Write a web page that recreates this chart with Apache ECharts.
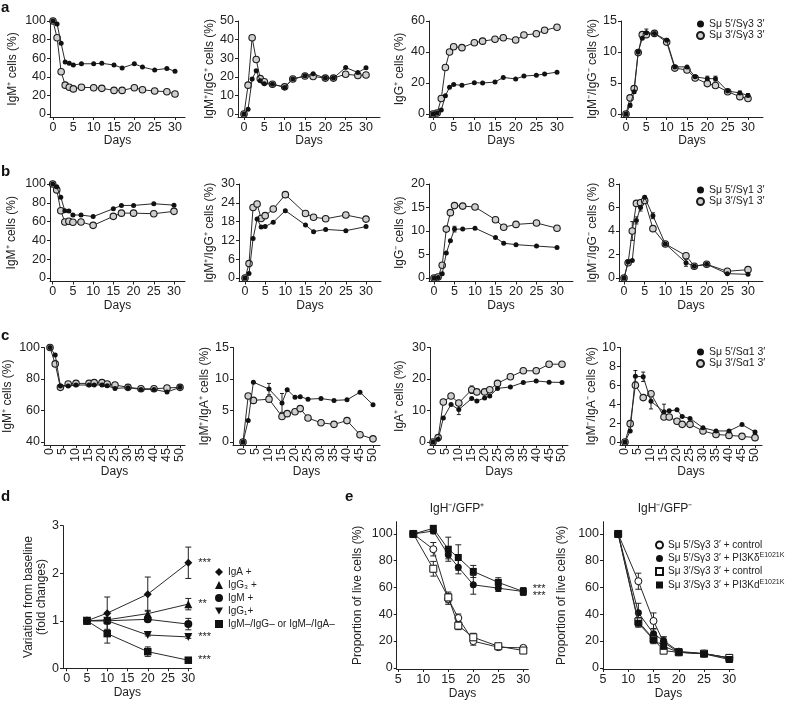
<!DOCTYPE html>
<html><head><meta charset="utf-8">
<script src="https://cdn.jsdelivr.net/npm/echarts@6/dist/echarts.min.js"></script>
<style>html,body{margin:0;padding:0;background:#fff}#c{width:788px;height:701px}</style>
</head><body><div id="c"></div>
<script>
// ---------- DATA ----------
const aNames = ['Sμ 5′/Sγ3 3′', 'Sμ 3′/Sγ3 3′'];
const bNames = ['Sμ 5′/Sγ1 3′', 'Sμ 3′/Sγ1 3′'];
const cNames = ['Sμ 5′/Sα1 3′', 'Sμ 3′/Sα1 3′'];

const aDays  = [0,1,2,3,4,5,7,10,12,15,17,20,22,25,28,30];
const a3Days = [0,1,2,3,4,5,7,10,12,15,17,20,22,25,27,30];
const a1Filled = [100,96.8,76,56,54.5,52.7,54,54,54.5,52.7,49.5,54,50.5,47.3,49,46];
const a1Open   = [100,82,45.5,31,28.7,27,28.7,28.3,27.6,25.4,25.4,28.3,26,24.7,24,21.5];
const a2Filled = [0,2.5,18.8,23.2,17.9,16.3,16,14.3,18.8,20.5,21.6,19.3,19.3,25,22.3,24.8];
const a2Open   = [0,15.5,41,29.3,19,17.3,16,14.6,18.8,20.4,20.2,19.3,19.3,21.4,20.7,21];
const a3Filled = [0,0.6,2.6,11.8,17.2,19,18.5,20.2,20,20.6,23.6,22.6,24.5,25,25.8,27];
const a3Open   = [0,0.6,10,30,40,43.4,42.8,46,47,48.2,49.2,47.7,51,51.8,54,56];
const a3OpenErr= [0,0,0,0,0,0,0,0,0,0,0,0,0,0,1.2,0];
const a4Filled = [0,1.4,3.6,10,12.2,13.1,13,11.9,7.6,7.6,6,5.7,5.7,3.7,3.4,3];
const a4Open   = [0,2.6,4.1,9.9,12.8,12.8,13,11.6,7.4,7.1,5.8,4.9,4.6,3.6,2.8,2.5];
const a4FilledErr = [0,0.3,0.3,0,0,0.6,0,0.3,0,0,0,0.4,0.4,0,0.3,0.3];

const bDays = [0,1,2,3,4,5,7,10,15,17,20,25,30];
const b1Filled = [100,97,86,71.6,71.2,67,67,65.3,73.7,77.2,77.2,79,77.5];
const b1Open   = [100,93.7,71.6,59.6,60.4,59.3,59.6,56,65.6,69,69,68.4,70.9];
const b2Filled = [0,1.4,12.6,18.8,16.3,16.4,17.8,21.5,16.9,14.8,15.5,15.1,16.4];
const b2Open   = [0,4.6,22.5,23.6,19,19.9,22,26.6,20.6,19.4,18.9,20.1,18.8];
const b3Filled = [0,0.1,0.9,5.3,7.9,10.4,10.4,10.6,8.6,7.4,7.1,6.8,6.5];
const b3Open   = [0,0.2,2.7,10.4,13.9,15.4,15.3,15.1,12.4,10.8,11.4,11.7,10.6];
const b3FilledErr = [0,0,0,0,0,0.6,0,0,0,0,0,0,0];
const b3OpenErr   = [0,0,0,0,0,0,0,0.5,0.4,0,0,0,0];
const b4Filled = [0,1.37,1.5,4.9,6.0,6.87,5.3,2.9,1.3,1.0,1.17,0.37,0.31];
const b4Open   = [0,1.3,4.0,6.35,6.4,6.6,4.2,2.9,1.9,1.0,1.17,0.57,0.71];
const b4FilledErr = [0,0,0,0.3,0.3,0.1,0.25,0,0.3,0,0,0,0];
const b4OpenErr   = [0,0,0.8,0,0,0,0.15,0,0.2,0,0,0,0];

const cDays  = [0,2,4,7,10,15,17,20,22,25,30,35,40,45,50];
const c2Days = [0,2,4,10,15,17,20,22,25,30,35,40,45,50];
const c1Filled = [100,95.3,75.5,75.5,76.2,76.2,76.2,76.2,75.7,74,74.5,73.4,73.4,71.7,74.7];
const c1Open   = [100,89.6,74.7,76.8,77.2,77.2,77.7,77.7,76.8,76.2,74.7,73.8,73.8,74.3,74.7];
const c2Filled = [0,3.4,9.5,8.4,6.2,8.3,7.1,7.2,6.8,6.9,6.6,6.7,7.9,5.9];
const c2Open   = [0,7.3,6.6,6.8,4.05,4.5,4.8,5.3,3.8,3.05,2.8,3.4,1.15,0.5];
const c2FilledErr = [0,0,0,0.9,1.5,0,0,0,0,0,0,0,0,0];
const c3Filled = [0,0.85,7.6,11.9,10.3,13.8,13,14,14.6,17,17.5,18.9,19.4,19,18.9];
const c3Open   = [0,1.4,12.7,14.6,12.4,16.6,15.9,15.9,16.6,18.6,20.7,22.6,22.6,24.7,24.7];
const c3FilledErr = [0,0,0,0,1.6,0,0,0,0,0,0,0,0,0,0];
const c3OpenErr   = [0,0,0,0,0,1.2,0,0,0,0,0,0,0,0,0];
const c4Filled = [0,1.17,6.96,6.9,4.3,3.2,3.3,3.4,2.7,2.5,1.5,1.17,1.17,1.84,1.06];
const c4Open   = [0,1.94,6.0,4.7,5.1,2.65,2.65,2.2,1.87,1.87,1.17,0.8,0.7,0.6,0.46];
const c4FilledErr = [0,0,0.6,0.5,0.8,0.8,0,0,0,0,0,0,0,0,0];

const dDays = [5,10,20,30];
const dNames = ['IgA +','IgG₃ +','IgM +','IgG₁+','IgM–/IgG– or IgM–/IgA–'];
const dIgA    = [1,1.16,1.56,2.22], dIgAErr    = [0,0.34,0.36,0.33];
const dIgG3   = [1,1.02,1.15,1.35], dIgG3Err   = [0,0.03,0.07,0.12];
const dIgM    = [1,1.0,1.03,0.93],  dIgMErr    = [0,0.04,0.05,0.12];
const dIgG1   = [1,1.0,0.7,0.66],   dIgG1Err   = [0,0.02,0.02,0.03];
const dNeg    = [1,0.73,0.35,0.17], dNegErr    = [0,0.2,0.1,0.02];
const dStars  = ['***','**','','***','***'];

const eDays = [8,12,15,17,20,25,30];
const eNames = ['Sμ 5′/Sγ3 3′ + control','Sμ 5′/Sγ3 3′ + PI3KδE1021K','Sμ 3′/Sγ3 3′ + control','Sμ 3′/Sγ3 3′ + PI3KdE1021K'];
const e1OpenC  = [100,88.6,51.4,37.2,19.9,15.4,14.9], e1OpenCErr  = [0,5,4,3,3,1,1.5];
const e1FillC  = [100,102.2,84.4,75.2,62,59.5,57],    e1FillCErr  = [0,2,3,5,7,2.5,2.5];
const e1OpenS  = [100,74,52.6,31.5,22.8,16.1,12.9],   e1OpenSErr  = [0,5.5,4,3,3,1,1.5];
const e1FillS  = [100,104.2,88.6,82.4,72,63.8,57],    e1FillSErr  = [0,2,9,9.5,4.5,3.5,3];
const e2OpenC  = [100,64.7,35,19,11.6,10.6,7.4],      e2OpenCErr  = [0,6,6,4,2,2,2];
const e2FillC  = [100,41.2,25.4,20.2,12.3,10.6,7.4],  e2FillCErr  = [0,7,4,3,2,2,2];
const e2OpenS  = [100,34.6,21.5,12.8,11.6,10.6,7.4],  e2OpenSErr  = [0,3,3,2,2,2,2];
const e2FillS  = [100,33.3,21,16,11.6,10.4,6.2],      e2FillSErr  = [0,3,3,3,2,2,2];
const eStars = ['','***','','***'];

// ---------- STYLE / LAYOUT ----------
const FONT = 'Liberation Sans, Arial, Helvetica, sans-serif';
const INK = '#222';
const TICK_FS = 12.5, NAME_FS = 12;
const chart = echarts.init(document.getElementById('c'), null, {renderer:'canvas'});

const grids = [], xAxes = [], yAxes = [], series = [];

function ticks(t){ const r=[]; for(let v=t[0]; v<=t[1]+1e-9; v+=t[2]) r.push(+v.toFixed(6)); return r; }

// geo: [axisX, x0px, x1px, xEnd, yAxisTop, y1px, y0px, xAxisY]
function addPanel(p){
  const gi = grids.length;
  const [ax,x0,x1,xe,ytop,y1,y0,xa] = p.geo;
  const sx = (x1-x0)/(p.xt[1]-p.xt[0]);
  const sy = (y0-y1)/(p.yt[1]-p.yt[0]);
  grids.push({left:ax, top:ytop, width:xe-ax, height:xa-ytop});
  const xT = ticks(p.xt), yT = ticks(p.yt);
  xAxes.push({type:'value', gridIndex:gi,
    min: p.xt[0]-(x0-ax)/sx, max: p.xt[1]+(xe-x1)/sx,
    axisLine:{show:true, onZero:false, lineStyle:{color:INK,width:1}},
    axisTick:{show:true, length:3, customValues:xT, lineStyle:{color:INK}},
    axisLabel:{customValues:xT, color:INK, fontSize:TICK_FS, fontFamily:FONT, margin:p.rot?3:4, rotate:p.rot?90:0},
    splitLine:{show:false},
    name:'Days', nameLocation:'middle', nameGap:p.xGap, nameTextStyle:{color:INK, fontSize:NAME_FS, fontFamily:FONT}
  });
  yAxes.push({type:'value', gridIndex:gi,
    min: p.yt[0]-(xa-y0)/sy, max: p.yt[1]+(y1-ytop)/sy,
    axisLine:{show:true, onZero:false, lineStyle:{color:INK,width:1}},
    axisTick:{show:true, length:3, customValues:yT, lineStyle:{color:INK}},
    axisLabel:{customValues:yT, color:INK, fontSize:TICK_FS, fontFamily:FONT, margin:4},
    splitLine:{show:false},
    name:p.yName, nameLocation:'middle', nameGap:p.yGap, nameRotate:90,
    nameTextStyle:{color:INK, fontSize:NAME_FS, fontFamily:FONT, lineHeight:13}
  });
  return gi;
}

function errSeries(gi, xs, ys, es, cap){
  const data = [];
  xs.forEach((x,i)=>{ if(es && es[i]>0) data.push([x, ys[i]-es[i], ys[i]+es[i]]); });
  if(!data.length) return;
  const w = cap||2;
  series.push({type:'custom', xAxisIndex:gi, yAxisIndex:gi, silent:true, z:1,
    encode:{x:0, y:[1,2]}, data,
    renderItem:(params, api)=>{
      const lo = api.coord([api.value(0), api.value(1)]);
      const hi = api.coord([api.value(0), api.value(2)]);
      const st = {stroke:INK, lineWidth:1};
      return {type:'group', children:[
        {type:'line', shape:{x1:lo[0],y1:lo[1],x2:hi[0],y2:hi[1]}, style:st},
        {type:'line', shape:{x1:lo[0]-w,y1:lo[1],x2:lo[0]+w,y2:lo[1]}, style:st},
        {type:'line', shape:{x1:hi[0]-w,y1:hi[1],x2:hi[0]+w,y2:hi[1]}, style:st}
      ]};
    }});
}

function lineSeries(gi, name, xs, ys, opt){
  series.push(Object.assign({type:'line', name, xAxisIndex:gi, yAxisIndex:gi,
    data: xs.map((x,i)=>[x, ys[i]]), symbol:'circle', symbolSize:5, z:3,
    lineStyle:{color:'#2a2a2a', width:1}, itemStyle:{color:'#111', borderColor:'#111', borderWidth:0},
    emphasis:{disabled:true}, animation:false}, opt||{}));
}
const openStyle = {symbolSize:6.5, itemStyle:{color:'#cfcfcf', borderColor:'#1a1a1a', borderWidth:1.1}};

function pairPanel(geo, xt, yt, yName, yGap, days, filled, open, names, fErr, oErr, rot, xGap){
  const gi = addPanel({geo, xt, yt, yName, yGap, rot, xGap});
  errSeries(gi, days, filled, fErr); errSeries(gi, days, open, oErr);
  lineSeries(gi, names[1], days, open, Object.assign({z:3}, openStyle));
  lineSeries(gi, names[0], days, filled, {z:4});
}

// Row a
pairPanel([50,53,175,185, 21,21,114,117],[0,30,5],[0,100,20],'IgM⁺ cells (%)',31,aDays,a1Filled,a1Open,aNames,null,null,false,18);
pairPanel([238,244,366,380, 21,21,114,117],[0,30,5],[0,50,10],'IgM⁺/IgG⁺ cells (%)',22,aDays,a2Filled,a2Open,aNames,null,null,false,18);
pairPanel([429,433,557,573, 21,21,114,117],[0,30,5],[0,60,20],'IgG⁺ cells (%)',23,a3Days,a3Filled,a3Open,aNames,null,a3OpenErr,false,18);
pairPanel([621,626,748,763, 21,21,114,117],[0,30,5],[0,15,5],'IgM⁻/IgG⁻ cells (%)',22,aDays,a4Filled,a4Open,aNames,a4FilledErr,null,false,18);
// Row b
pairPanel([50,52.7,174,185, 184,184,278,281.5],[0,30,5],[0,100,20],'IgM⁺ cells (%)',32,bDays,b1Filled,b1Open,bNames,null,null,false,18);
pairPanel([239,245,366,381, 184,184,278,281.5],[0,30,5],[0,30,6],'IgM⁺/IgG⁺ cells (%)',23,bDays,b2Filled,b2Open,bNames,null,null,false,18);
pairPanel([429,434,557,573, 184,184,278,281.5],[0,30,5],[0,20,5],'IgG⁻ cells (%)',23,bDays,b3Filled,b3Open,bNames,b3FilledErr,b3OpenErr,false,18);
pairPanel([619,624,748,763, 184,184,278,281.5],[0,30,5],[0,8,2],'IgM⁻/IgG⁻ cells (%)',20,bDays,b4Filled,b4Open,bNames,b4FilledErr,b4OpenErr,false,18);
// Row c
pairPanel([44,50,180,185, 347.5,347.5,442,445],[0,50,5],[40,100,20],'IgM⁺ cells (%)',30,cDays,c1Filled,c1Open,cNames,null,null,true,21);
pairPanel([233,243,373,380, 347.5,347.5,442,445],[0,50,5],[0,15,5],'IgM⁺/IgA⁺ cells (%)',21,c2Days,c2Filled,c2Open,cNames,c2FilledErr,null,true,21);
pairPanel([430,433,562,568, 347.5,347.5,442,445],[0,50,5],[0,30,10],'IgA⁺ cells (%)',24,cDays,c3Filled,c3Open,cNames,c3FilledErr,c3OpenErr,true,21);
pairPanel([620,625,755,762, 347.5,347.5,442,445],[0,50,5],[0,10,2],'IgM⁻/IgA⁻ cells (%)',19,cDays,c4Filled,c4Open,cNames,c4FilledErr,null,true,21);

// Panel d
{
  const gi = addPanel({geo:[63,66.7,188.3,191.7, 525.7,525.7,668.3,668.3], xt:[0,30,5], yt:[0,3,1],
    yName:'Variation from baseline\n(fold changes)', yGap:15, xGap:13});
  const dSets = [[dIgA,dIgAErr,'diamond',8],[dIgG3,dIgG3Err,'triangle',8],[dIgM,dIgMErr,'circle',8],
                 [dIgG1,dIgG1Err,'path://M0,0 L10,0 L5,9 Z',8],[dNeg,dNegErr,'rect',7.5]];
  dSets.forEach((s,k)=>{
    errSeries(gi, dDays, s[0], s[1], 3);
    series.push({type:'line', name:dNames[k], xAxisIndex:gi, yAxisIndex:gi, animation:false,
      data: dDays.map((x,i)=>({value:[x, s[0][i]],
        label: (i===dDays.length-1 && dStars[k]) ? {show:true, formatter:dStars[k], position:'right', distance:6,
          color:INK, fontSize:11, fontFamily:FONT} : {show:false}})),
      symbol:s[2], symbolSize:s[3], z:3+k, lineStyle:{color:'#2a2a2a', width:1},
      itemStyle:{color:'#111'}, emphasis:{disabled:true}});
  });
}

// Panel e
const eSyms = [['circle',false],['circle',true],['rect',false],['rect',true]];
function ePanel(geo, yGap, sets, stars){
  const gi = addPanel({geo, xt:[5,30,5], yt:[0,100,20], yName:'Proportion of live cells (%)', yGap, xGap:19});
  sets.forEach((s,k)=>{
    errSeries(gi, eDays, s[0], s[1], 3);
    const filled = eSyms[k][1];
    series.push({type:'line', name:eNames[k], xAxisIndex:gi, yAxisIndex:gi, animation:false,
      data: eDays.map((x,i)=>({value:[x, s[0][i]],
        label: (stars && i===eDays.length-1 && stars[k]) ? {show:true, formatter:stars[k], position:'right', distance:6,
          offset:[0, k===3?-3:4], color:INK, fontSize:11, fontFamily:FONT} : {show:false}})),
      symbol:eSyms[k][0], symbolSize:7, z:3+k, lineStyle:{color:'#2a2a2a', width:1},
      itemStyle: filled ? {color:'#111'} : {color:'#fff', borderColor:'#111', borderWidth:1},
      emphasis:{disabled:true}});
  });
}
ePanel([396.7,398.3,523.3,528.3, 521.7,534,668.3,669.5], 33,
  [[e1OpenC,e1OpenCErr],[e1FillC,e1FillCErr],[e1OpenS,e1OpenSErr],[e1FillS,e1FillSErr]], eStars);
ePanel([603,603,729.3,734, 521.7,534,668.3,669.5], 35,
  [[e2OpenC,e2OpenCErr],[e2FillC,e2FillCErr],[e2OpenS,e2OpenSErr],[e2FillS,e2FillSErr]], null);

// ---------- legends & titles ----------
const legTxt = {color:INK, fontSize:10.5, fontFamily:FONT, lineHeight:11};
function pairLegend(names, top){
  return {orient:'vertical', left:696, top, itemWidth:7, itemHeight:7, itemGap:0.5, padding:0,
    icon:'circle', selectedMode:false, textStyle:legTxt, data:[names[0], names[1]]};
}
const legends = [
  pairLegend(aNames, 18.5),
  pairLegend(bNames, 184.5),
  pairLegend(cNames, 346.5),
  {orient:'vertical', left:215, top:566, itemWidth:8, itemHeight:8, itemGap:1, padding:0, selectedMode:false,
   textStyle:{color:INK, fontSize:10, fontFamily:FONT, lineHeight:12},
   data:[{name:dNames[0],icon:'diamond'},{name:dNames[1],icon:'triangle'},{name:dNames[2],icon:'circle'},
         {name:dNames[3],icon:'path://M0,0 L10,0 L5,9 Z'},{name:dNames[4],icon:'rect'}]},
  {orient:'vertical', left:655, top:539, itemWidth:7, itemHeight:7, itemGap:1, padding:0, selectedMode:false,
   textStyle:{color:INK, fontSize:10, fontFamily:FONT, lineHeight:12,
     rich:{sup:{fontSize:7, fontFamily:FONT, color:INK, padding:[0,0,6,0]}}},
   formatter: n => n.replace('E1021K','{sup|E1021K}'),
   data:[{name:eNames[0],icon:'circle'},{name:eNames[1],icon:'circle'},{name:eNames[2],icon:'rect'},{name:eNames[3],icon:'rect'}]}
];

const letterStyle = {color:'#111', fontSize:15, fontWeight:'bold', fontFamily:FONT};
const titles = [
  {text:'a', left:1, top:0, textStyle:letterStyle, padding:0},
  {text:'b', left:1, top:164, textStyle:letterStyle, padding:0},
  {text:'c', left:1, top:328, textStyle:letterStyle, padding:0},
  {text:'d', left:1, top:489, textStyle:letterStyle, padding:0},
  {text:'e', left:345, top:489, textStyle:letterStyle, padding:0},
  {text:'IgH⁻/GFP⁺', left:457, top:503, textAlign:'center', padding:0, textStyle:{color:INK, fontSize:12, fontWeight:'normal', fontFamily:FONT}},
  {text:'IgH⁻/GFP⁻', left:665, top:503, textAlign:'center', padding:0, textStyle:{color:INK, fontSize:12, fontWeight:'normal', fontFamily:FONT}}
];

chart.setOption({animation:false, backgroundColor:'#fff', title:titles, legend:legends,
  grid:grids, xAxis:xAxes, yAxis:yAxes, series});
</script></body></html>
